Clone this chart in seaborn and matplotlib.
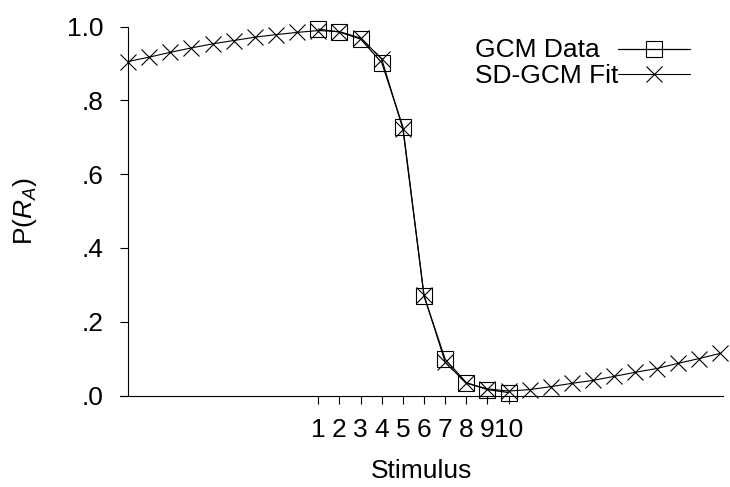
import matplotlib
matplotlib.use("Agg")
import matplotlib.pyplot as plt
import seaborn as sns
import numpy as np
import pandas as pd

# ---- data ----
stimulus = [1, 2, 3, 4, 5, 6, 7, 8, 9, 10]
gcm_data = [0.993, 0.985, 0.966, 0.902, 0.728, 0.269, 0.098, 0.035, 0.016, 0.008]

fit_x = [-8, -7, -6, -5, -4, -3, -2, -1, 0, 1, 2, 3, 4, 5, 6, 7, 8, 9, 10,
         11, 12, 13, 14, 15, 16, 17, 18, 19, 20]
fit_y = [0.905, 0.917, 0.930, 0.942, 0.953, 0.962, 0.971, 0.978, 0.984, 0.989,
         0.986, 0.969, 0.912, 0.722, 0.272, 0.090, 0.033, 0.018, 0.012, 0.016,
         0.024, 0.033, 0.041, 0.052, 0.063, 0.073, 0.087, 0.100, 0.114]

x_ticks = stimulus
x_tick_labels = [str(s) for s in stimulus]
y_ticks = [0.0, 0.2, 0.4, 0.6, 0.8, 1.0]
y_tick_labels = [".0", ".2", ".4", ".6", ".8", "1.0"]

series_labels = ["GCM Data", "SD-GCM Fit"]

# ---- style ----
sns.set_style("ticks")
plt.rcParams["font.family"] = ["Liberation Sans", "DejaVu Sans"]
plt.rcParams["mathtext.fontset"] = "custom"
plt.rcParams["mathtext.rm"] = "Liberation Sans"
plt.rcParams["mathtext.it"] = "Liberation Sans:italic"
plt.rcParams["mathtext.default"] = "it"
for k in ["text.color", "axes.labelcolor", "xtick.color", "ytick.color",
          "axes.edgecolor"]:
    plt.rcParams[k] = "black"
FS = 19

W, H = 730, 487
fig = plt.figure(figsize=(7.3, 4.87), dpi=100)
ax = fig.add_axes([120 / W, 1 - 395.5 / H, (723 - 120) / W, (395.5 - 26.5) / H])

df_data = pd.DataFrame({"x": stimulus, "y": gcm_data})
df_fit = pd.DataFrame({"x": fit_x, "y": fit_y})

sns.lineplot(data=df_data, x="x", y="y", ax=ax, color="black", lw=0.9,
             marker="s", markersize=11.5, markerfacecolor="none",
             markeredgecolor="black", markeredgewidth=0.8,
             clip_on=False, zorder=3)
sns.lineplot(data=df_fit, x="x", y="y", ax=ax, color="black", lw=0.8,
             marker="x", markersize=12, markeredgecolor="black",
             markeredgewidth=0.8, clip_on=False, zorder=4)

ax.set_xlim(-8.38, 20.14)
ax.set_ylim(0, 1)

for s in ["top", "right"]:
    ax.spines[s].set_visible(False)
ax.spines["left"].set_position(("data", -8))
ax.spines["left"].set_linewidth(0.8)
ax.spines["bottom"].set_linewidth(0.8)

ax.set_xticks(x_ticks)
ax.set_xticklabels(x_tick_labels)
ax.set_yticks(y_ticks)
ax.set_yticklabels(y_tick_labels)
ax.tick_params(axis="x", direction="out", length=5.8, width=0.8, pad=10.5,
               labelsize=FS, color="black", labelcolor="black")
ax.tick_params(axis="y", direction="out", length=5.8, width=0.8, pad=12,
               labelsize=FS, color="black", labelcolor="black")

ax.set_xlabel("Stimulus", fontsize=FS, labelpad=12)
ax.set_ylabel("P($R_A$)", fontsize=FS, labelpad=20)

# legend: sample lines on the right, left-aligned labels (gnuplot style key)
handles = ax.get_lines()[:2]
leg = ax.legend(handles, ["", ""], loc="upper left",
                bbox_to_anchor=(618 / W, 1 - 39 / H),
                bbox_transform=fig.transFigure, frameon=False, fontsize=18,
                handlelength=2.88, handletextpad=0.0, labelspacing=0.02,
                borderpad=0, borderaxespad=0)
for lab, base in zip(series_labels, [56.7, 83.0]):
    fig.text(475 / W, 1 - base / H, lab, fontsize=FS, ha="left", va="baseline",
             color="black")

fig.savefig("out.png", dpi=100)
